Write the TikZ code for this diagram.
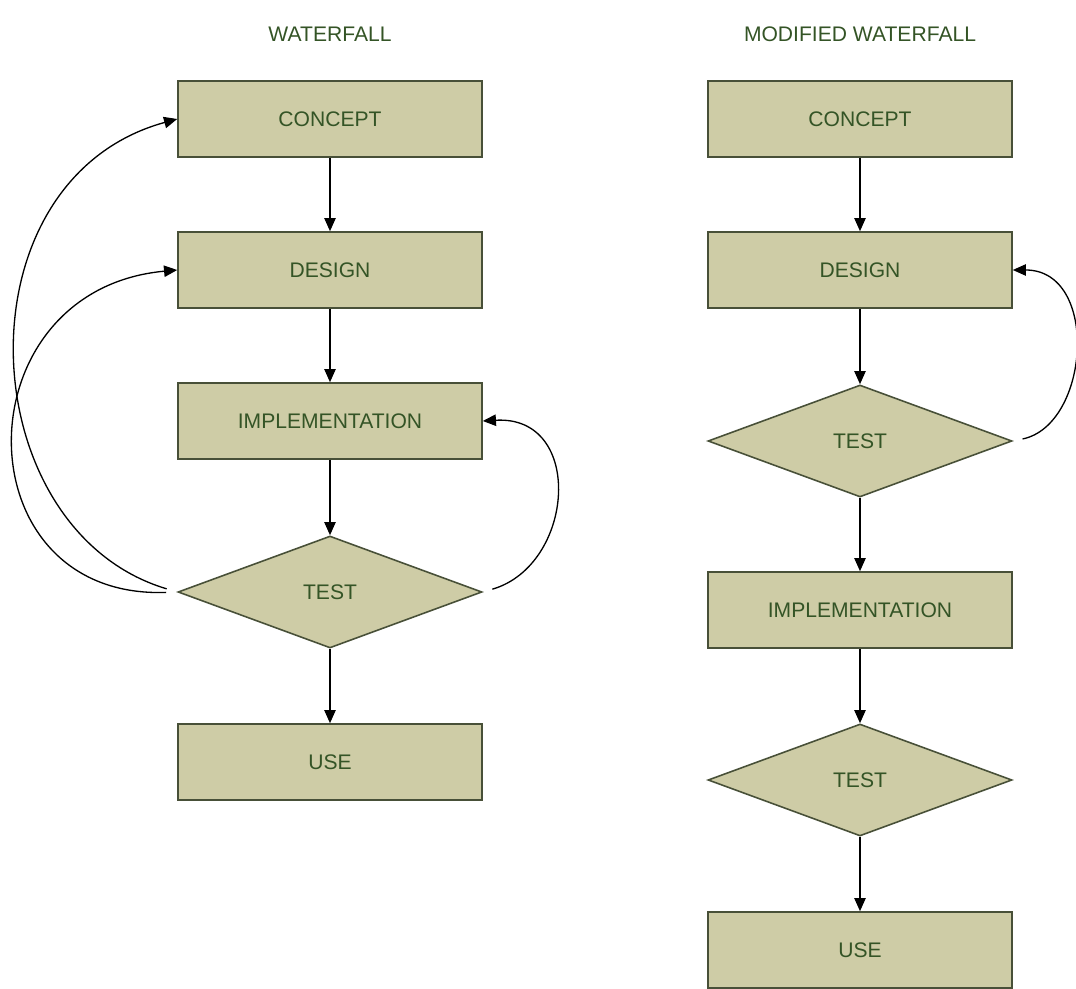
\documentclass[tikz,border=0pt]{standalone}
\usepackage{fontspec}
\setsansfont{Liberation Sans}
\usepackage{tikz}
\usetikzlibrary{shapes.geometric}
\usetikzlibrary{positioning,arrows.meta}

\definecolor{boxfill}{RGB}{206,204,166}
\definecolor{boxline}{RGB}{72,80,56}
\definecolor{boxtext}{RGB}{52,84,38}

\begin{document}
\begin{tikzpicture}[->,>={Triangle[length=7.5pt,width=6.5pt]},line width=0.75pt,
	font=\sffamily\fontsize{12}{14}\selectfont,
	stage/.style={rectangle,draw=boxline,fill=boxfill,text=boxtext,line width=0.9pt,minimum width=6.08cm,minimum height=1.52cm},
	check/.style={diamond,draw=boxline,fill=boxfill,text=boxtext,line width=0.9pt,minimum width=6.08cm,minimum height=2.24cm,inner sep=0pt},
	title/.style={text=boxtext}]
	\useasboundingbox (0,0) rectangle (21.52,-19.78);
	
	% waterfall
	\node[title] (T1) at (6.6,-0.68) {WATERFALL};
	\node[stage] (c1) at (6.6,-2.38) {CONCEPT};
	\node[stage] (d1) at (6.6,-5.4) {DESIGN};
	\node[stage] (i1) at (6.6,-8.42) {IMPLEMENTATION};
	\node[check] (t1) at (6.6,-11.84) {TEST};
	\node[stage] (u1) at (6.6,-15.24) {USE};
	
	\draw (c1) -- (d1);
	\draw (d1) -- (i1);
	\draw (i1) -- (t1);
	\draw (t1) -- (u1);
	\draw[shorten <=0.22cm] (t1.west) .. controls (-0.6,-10.6) and (-0.9,-3.6) .. (c1.west);
	\draw[shorten <=0.22cm] (t1.west) .. controls (-0.8,-12.0) and (-0.8,-5.8) .. (d1.west);
	\draw[shorten <=0.2cm] (t1.east) .. controls (11.5,-11.3) and (11.7,-8.3) .. (i1.east);
	
	% modified waterfall
	\node[title] (T2) at (17.2,-0.68) {MODIFIED WATERFALL};
	\node[stage] (c2) at (17.2,-2.38) {CONCEPT};
	\node[stage] (d2) at (17.2,-5.4) {DESIGN};
	\node[check] (t2) at (17.2,-8.82) {TEST};
	\node[stage] (i2) at (17.2,-12.2) {IMPLEMENTATION};
	\node[check] (t3) at (17.2,-15.6) {TEST};
	\node[stage] (u2) at (17.2,-19.0) {USE};
	
	\draw (c2) -- (d2);
	\draw (d2) -- (t2);
	\draw (t2) -- (i2);
	\draw (i2) -- (t3);
	\draw (t3) -- (u2);
	\draw[shorten <=0.2cm] (t2.east) .. controls (21.8,-8.5) and (22.0,-5.4) .. (d2.east);
\end{tikzpicture}
\end{document}
